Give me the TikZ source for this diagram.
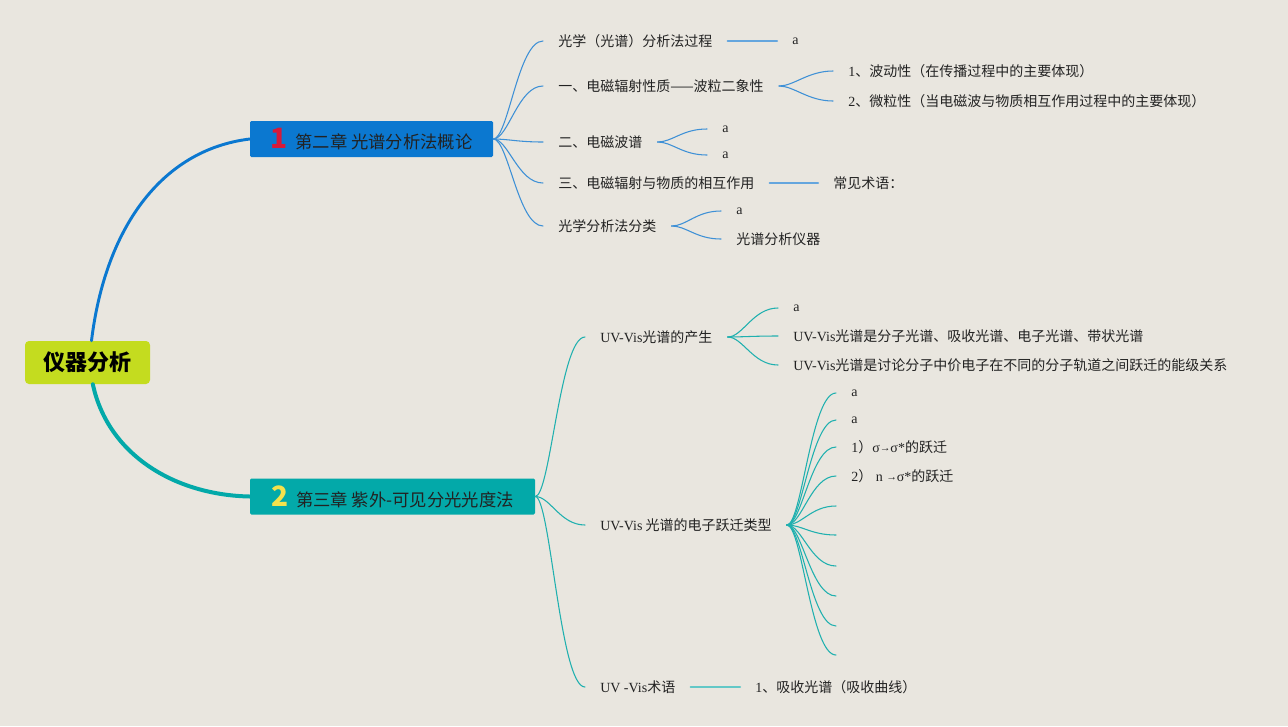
\documentclass[tikz,border=0pt]{standalone}
\usepackage{fontspec}
\setmainfont{Liberation Serif}
\newfontfamily\cjk{Noto Sans CJK SC}
\usepackage{tikz}
\definecolor{paper}{HTML}{E9E6DF}
\definecolor{lime}{HTML}{C4DC1F}
\definecolor{blueA}{HTML}{0B78D0}
\definecolor{tealA}{HTML}{03A9A9}
\definecolor{blueL}{HTML}{3E90D6}
\definecolor{tealL}{HTML}{20B0AF}
\definecolor{redN}{HTML}{D7193A}
\definecolor{yelN}{HTML}{F4E24C}
\definecolor{ink}{HTML}{222222}
\newcommand{\lat}[1]{{\rmfamily #1}}
\newcommand{\sarr}{{\footnotesize\raisebox{0.25ex}{→}}}
\tikzset{
  rootbox/.style={fill=lime, rounded corners=3pt, minimum width=93.75pt, minimum height=32.25pt,
    font=\cjk\bfseries\fontsize{16.5}{18}\selectfont, text=black},
  chapbox/.style={rounded corners=1pt, minimum height=27pt, inner sep=0pt,
    font=\cjk\fontsize{13}{15}\selectfont, text=ink},
  leaf/.style={anchor=west, inner xsep=11.25pt, inner ysep=2pt,
    font=\cjk\fontsize{10.5}{12}\selectfont, text=ink},
  trunkA/.style={draw=blueA, line width=2.2pt},
  trunkB/.style={draw=tealA, line width=3pt},
  twigA/.style={draw=blueL, line width=0.8pt},
  twigB/.style={draw=tealL, line width=0.8pt},
  barA/.style={draw=blueL!80!white, line width=1.5pt},
  barB/.style={draw=tealL!70!white, line width=1.5pt}
}
\newcommand{\twig}[3]{\draw[#1] (#2) .. controls +(15,0) and +(-25,0) .. (#3);}

\begin{document}
\begin{tikzpicture}[x=0.75pt, y=-0.75pt, line cap=round]
  \fill[paper] (0,0) rectangle (1288,726);
  \useasboundingbox (0,0) rectangle (1288,726);
  % main topics
  \node[rootbox] (root) at (87.5,362.5) {仪器分析};
  \node[chapbox, fill=blueA, minimum width=182.25pt] (ch1) at (371.5,139)
    {{\color{redN}\fontsize{21}{21}\selectfont\bfseries 1}\hspace{6pt}第二章 光谱分析法概论};
  \node[chapbox, fill=tealA, minimum width=213.75pt] (ch2) at (392.5,496.5)
    {{\color{yelN}\fontsize{21}{21}\selectfont\bfseries 2}\hspace{6pt}第三章 紫外-可见分光光度法};
  \draw[trunkA] ([xshift=3pt]root.north) .. controls (105,230) and (160,150) .. (ch1.west);
  \draw[trunkB] ([xshift=4pt]root.south) .. controls (108,455) and (175,495) .. (ch2.west);

  % chapter 2 of the book
  \node[leaf] (c1a) at (543,41) {光学（光谱）分析法过程};
  \node[leaf] (c1b) at (543,86) {一、电磁辐射性质——波粒二象性};
  \node[leaf] (c1c) at (543,142) {二、电磁波谱};
  \node[leaf] (c1d) at (543,183) {三、电磁辐射与物质的相互作用};
  \node[leaf] (c1e) at (543,226) {光学分析法分类};
  \foreach \n in {c1a,c1b,c1c,c1d,c1e} {\twig{twigA}{ch1.east}{\n.west}}

  \node[leaf] (c1a1) at (777,41) {\lat{a}};
  \draw[barA] (c1a.east) -- (c1a1.west);
  \node[leaf] (c1b1) at (833,71) {\lat{1}、波动性（在传播过程中的主要体现）};
  \node[leaf] (c1b2) at (833,101) {\lat{2}、微粒性（当电磁波与物质相互作用过程中的主要体现）};
  \twig{twigA}{c1b.east}{c1b1.west}
  \twig{twigA}{c1b.east}{c1b2.west}
  \node[leaf] (c1c1) at (707,129) {\lat{a}};
  \node[leaf] (c1c2) at (707,155) {\lat{a}};
  \twig{twigA}{c1c.east}{c1c1.west}
  \twig{twigA}{c1c.east}{c1c2.west}
  \node[leaf] (c1d1) at (818,183) {常见术语：};
  \draw[barA] (c1d.east) -- (c1d1.west);
  \node[leaf] (c1e1) at (721,211) {\lat{a}};
  \node[leaf] (c1e2) at (721,239) {光谱分析仪器};
  \twig{twigA}{c1e.east}{c1e1.west}
  \twig{twigA}{c1e.east}{c1e2.west}

  % chapter 3 of the book
  \node[leaf] (c2a) at (585,337) {\lat{UV-Vis}光谱的产生};
  \node[leaf] (c2b) at (585,525) {\lat{UV-Vis} 光谱的电子跃迁类型};
  \node[leaf] (c2c) at (585,687) {\lat{UV -Vis}术语};
  \foreach \n in {c2a,c2b,c2c} {\twig{twigB}{ch2.east}{\n.west}}

  \node[leaf] (c2a1) at (778,308) {\lat{a}};
  \node[leaf] (c2a2) at (778,336) {\lat{UV-Vis}光谱是分子光谱、吸收光谱、电子光谱、带状光谱};
  \node[leaf] (c2a3) at (778,365) {\lat{UV-Vis}光谱是讨论分子中价电子在不同的分子轨道之间跃迁的能级关系};
  \foreach \n in {c2a1,c2a2,c2a3} {\twig{twigB}{c2a.east}{\n.west}}

  \foreach \y [count=\i] in {393,420,447,476,506,535,566,596,626,655} {
    \coordinate (e\i) at (836,\y);
    \twig{twigB}{c2b.east}{e\i}
  }
  \node[leaf] (c2b1) at (e1) {\lat{a}};
  \node[leaf] (c2b2) at (e2) {\lat{a}};
  \node[leaf] (c2b3) at (e3) {\lat{1}）\lat{σ\sarr σ*}的跃迁};
  \node[leaf] (c2b4) at (e4) {\lat{2}）\lat{\ n \sarr σ*}的跃迁};

  \node[leaf] (c2c1) at (740,687) {\lat{1}、吸收光谱（吸收曲线）};
  \draw[barB] (c2c.east) -- (c2c1.west);
\end{tikzpicture}
\end{document}
